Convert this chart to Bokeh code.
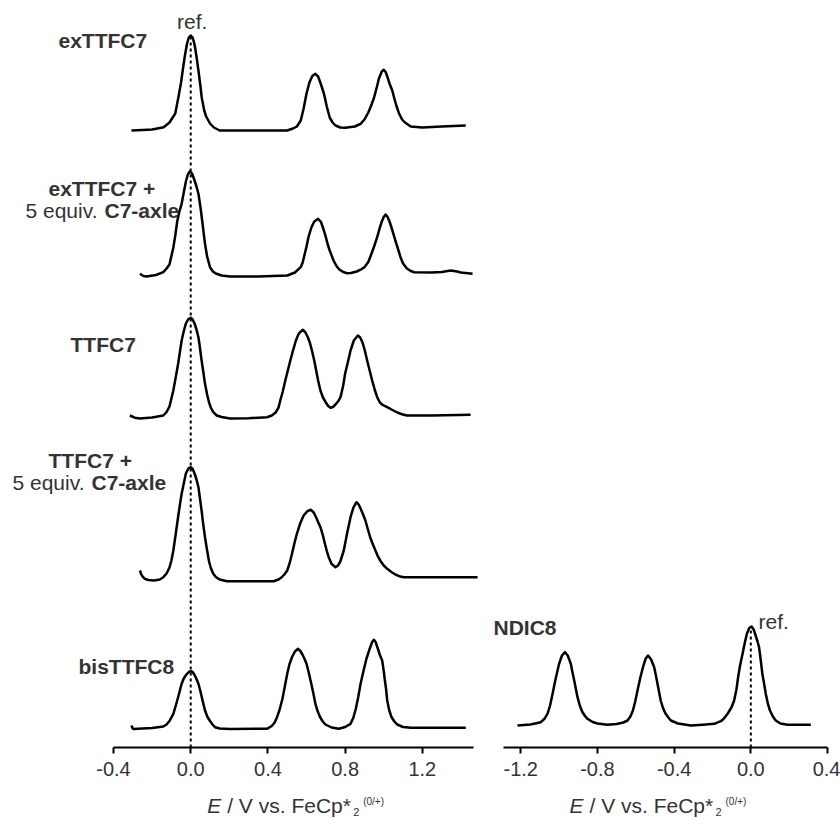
from bokeh.plotting import figure
from bokeh.layouts import row, column
from bokeh.models import Range1d, Label, FixedTicker, PrintfTickFormatter
from bokeh.embed import file_html
from bokeh.resources import INLINE

# ---------------- data (E in V vs FeCp*2, current in a.u. above each trace baseline) ----------------
extt_E = [-0.307, -0.25, -0.20, -0.14, -0.11, -0.08, -0.064, -0.05, -0.04, -0.03, -0.02, -0.01, 0.0, 0.01,
          0.02, 0.03, 0.04, 0.05, 0.057, 0.07, 0.08, 0.10, 0.12, 0.15, 0.30, 0.50, 0.53, 0.55, 0.57,
          0.585, 0.60, 0.615, 0.63, 0.646, 0.66, 0.675, 0.69, 0.705, 0.72, 0.735, 0.75, 0.775, 0.80,
          0.85, 0.88, 0.90, 0.92, 0.935, 0.95, 0.965, 0.975, 0.99, 1.0, 1.01, 1.02, 1.03, 1.044, 1.055,
          1.065, 1.08, 1.095, 1.11, 1.14, 1.20, 1.30, 1.425]
extt_I = [0, 0.5, 1, 3.3, 8, 17, 33, 48, 62, 75, 86, 93, 95, 93,
          86, 74, 60, 45, 33, 20, 14, 7, 3, 0, 0, 0, 2, 4, 10,
          22, 37, 48, 54.5, 56.7, 54, 46, 37, 24, 13, 8, 5, 3, 2.7,
          4, 6.7, 11, 18, 25, 33, 44, 52, 59, 60.7, 58.5, 53, 47, 40, 32,
          25, 16.7, 11, 8, 4, 3, 4, 5]

exttax_E = [-0.263, -0.245, -0.229, -0.18, -0.142, -0.125, -0.11, -0.09, -0.08, -0.07, -0.06, -0.047,
            -0.035, -0.025, -0.015, -0.004, 0.007, 0.02, 0.03, 0.04, 0.05, 0.06, 0.074, 0.085, 0.10,
            0.115, 0.13, 0.16, 0.204, 0.35, 0.50, 0.54, 0.57, 0.58, 0.59, 0.60, 0.61, 0.625, 0.64,
            0.66, 0.675, 0.69, 0.70, 0.71, 0.72, 0.74, 0.755, 0.77, 0.79, 0.81, 0.83, 0.86, 0.88,
            0.90, 0.92, 0.935, 0.95, 0.966, 0.98, 0.99, 1.0, 1.01, 1.02, 1.03, 1.04, 1.05, 1.06, 1.07,
            1.087, 1.10, 1.12, 1.14, 1.156, 1.25, 1.30, 1.347, 1.38, 1.40, 1.46]
exttax_I = [2.7, 0.5, 0, 1.5, 4.3, 8, 12, 29, 41, 55, 64, 72.7,
            85, 95, 102, 105.3, 103, 96, 90, 82.7, 70, 55, 32.7, 20, 9.3,
            5, 3, 1, 0, 0, 1, 4, 9.3, 14, 22, 30, 39.3, 49, 55,
            57.7, 54.5, 46, 39.3, 32, 26, 16, 10.5, 7, 4.5, 3.3, 3.5, 5, 6.8,
            9.3, 14.5, 22, 30, 39.3, 49, 55, 59.5, 62, 59.5, 55, 49, 42.7, 36, 30,
            19.3, 13, 8, 5.5, 4.3, 4, 4.5, 6, 5, 4, 2.7]

tt_E = [-0.315, -0.29, -0.263, -0.20, -0.142, -0.125, -0.11, -0.09, -0.075, -0.065, -0.047, -0.035,
        -0.025, -0.012, 0.0, 0.01, 0.02, 0.03, 0.04, 0.047, 0.055, 0.065, 0.074, 0.085, 0.095, 0.105,
        0.117, 0.135, 0.16, 0.204, 0.30, 0.395, 0.42, 0.44, 0.455, 0.464, 0.477, 0.49, 0.503, 0.516,
        0.53, 0.545, 0.56, 0.58, 0.593, 0.605, 0.617, 0.628, 0.64, 0.65, 0.66, 0.672, 0.685, 0.70,
        0.712, 0.724, 0.737, 0.75, 0.765, 0.776, 0.79, 0.80, 0.815, 0.828, 0.845, 0.866, 0.878, 0.89,
        0.902, 0.914, 0.927, 0.94, 0.953, 0.966, 0.98, 0.995, 1.018, 1.045, 1.07, 1.095, 1.12, 1.25,
        1.45]
tt_I = [3, 0.8, 0, 1, 3, 6.5, 12, 28, 44, 55, 78, 88,
        95, 99.5, 100.7, 99, 95, 89, 81.3, 72, 60, 47, 34.7, 24, 16, 10.5,
        6.3, 3, 1.5, 0, 0.3, 1.3, 3, 6, 11, 18, 27, 38, 48, 58,
        68, 78, 85, 88.7, 86.5, 82, 76, 68, 58, 48, 38, 28, 21, 16,
        12.5, 10.7, 11.5, 14, 17.5, 21.3, 33, 45, 57, 68, 78, 83, 81, 76,
        68, 58, 48, 38, 29, 21.3, 16, 13.5, 11.3, 8.5, 6, 4.3, 3, 3,
        3.7]

ttax_E = [-0.263, -0.257, -0.25, -0.237, -0.22, -0.19, -0.16, -0.142, -0.125, -0.11, -0.10, -0.09,
          -0.078, -0.065, -0.055, -0.047, -0.035, -0.025, -0.012, 0.0, 0.01, 0.02, 0.03, 0.04, 0.048,
          0.057, 0.065, 0.074, 0.085, 0.095, 0.105, 0.117, 0.13, 0.15, 0.187, 0.43, 0.455, 0.47, 0.485,
          0.50, 0.512, 0.525, 0.537, 0.55, 0.567, 0.585, 0.605, 0.623, 0.637, 0.65, 0.66, 0.672, 0.685,
          0.695, 0.705, 0.715, 0.73, 0.75, 0.763, 0.775, 0.793, 0.81, 0.82, 0.828, 0.843, 0.859, 0.87,
          0.88, 0.893, 0.905, 0.918, 0.93, 0.944, 0.957, 0.97, 0.985, 1.0, 1.018, 1.04, 1.06, 1.08,
          1.104, 1.30, 1.486]
ttax_I = [11, 7.5, 5, 2.7, 1.5, 1, 2, 4.3, 8, 14, 21, 31,
          47, 65, 78, 87.7, 99, 108, 113, 114.3, 112.5, 108, 102, 94.3, 83,
          70, 57, 44.3, 31, 20, 13, 7.7, 4.5, 2, 0.3, 0.3, 2, 4, 7,
          11, 18, 28, 38, 47.7, 58, 66, 70.5, 71.7, 69, 64, 59.5, 54.3, 46,
          38, 30.5, 24.3, 17.5, 14.3, 16, 20, 31, 48, 57, 64.3, 74, 79.3, 77,
          73, 67, 61, 52, 44, 37, 31, 25, 20, 16, 12.7, 9.5, 7, 5.3,
          4.3, 4.3, 4.3]

bis_E = [-0.307, -0.302, -0.298, -0.25, -0.20, -0.142, -0.125, -0.11, -0.09, -0.078, -0.065, -0.047,
         -0.035, -0.02, -0.01, 0.0, 0.01, 0.02, 0.03, 0.04, 0.05, 0.062, 0.074, 0.087, 0.10, 0.113,
         0.126, 0.15, 0.204, 0.395, 0.42, 0.435, 0.447, 0.46, 0.475, 0.487, 0.50, 0.512, 0.525, 0.54,
         0.556, 0.568, 0.58, 0.59, 0.60, 0.612, 0.625, 0.636, 0.646, 0.657, 0.67, 0.684, 0.698, 0.73,
         0.767, 0.80, 0.828, 0.842, 0.855, 0.868, 0.88, 0.895, 0.91, 0.925, 0.94, 0.949, 0.958, 0.97,
         0.98, 0.992, 1.0, 1.005, 1.012, 1.018, 1.028, 1.04, 1.055, 1.07, 1.10, 1.14, 1.425]
bis_I = [3.5, 1, 0, 0.5, 1, 2.5, 4.5, 8, 15.2, 23, 32, 45.2,
         51, 55, 57, 57.8, 57, 54, 50, 45.2, 38, 28, 18.5, 12, 8, 4.5,
         1.8, 0.5, 0, 0.2, 3, 6.5, 11.8, 19, 30, 42, 55.2, 65, 72, 77.5,
         80.2, 78, 74, 70, 65.2, 56, 45, 35, 25.2, 18, 12, 7.5, 4.5, 1.5,
         0.2, 2, 5.2, 11, 20, 32, 45.2, 58, 70, 79, 87, 89.2, 87, 80,
         74, 68.5, 58, 50, 40, 28.5, 19, 12, 7.5, 4.5, 2, 1.2, 1.2]

ndi_E = [-1.217, -1.15, -1.095, -1.075, -1.06, -1.047, -1.034, -1.02, -1.0, -0.985, -0.969, -0.955,
         -0.939, -0.93, -0.92, -0.912, -0.904, -0.892, -0.88, -0.865, -0.852, -0.825, -0.80, -0.748,
         -0.70, -0.665, -0.643, -0.628, -0.615, -0.603, -0.591, -0.575, -0.56, -0.548, -0.536, -0.52,
         -0.504, -0.495, -0.485, -0.477, -0.47, -0.458, -0.445, -0.43, -0.417, -0.38, -0.313, -0.25,
         -0.191, -0.156, -0.14, -0.12, -0.10, -0.087, -0.075, -0.065, -0.055, -0.043, -0.03, -0.02,
         -0.008, 0.004, 0.015, 0.025, 0.035, 0.043, 0.052, 0.06, 0.07, 0.078, 0.09, 0.10, 0.115, 0.13,
         0.155, 0.191, 0.313]
ndi_I = [0, 1, 3.3, 7, 12, 20, 31.7, 45, 61.7, 70, 73.3, 70,
         61.7, 53, 44, 36, 28.3, 20, 14, 9.5, 6.7, 3.5, 2, 0.7,
         1.5, 3, 5, 9, 15, 24, 35, 49, 60, 67, 70, 66,
         58.3, 50, 40, 32, 25, 17.5, 12, 8, 5, 2, 0, 0.8,
         1.7, 4.3, 7, 12, 18.5, 25, 36, 50, 61, 71.7, 84, 92,
         97.5, 99, 96, 90, 84, 78.3, 65, 52, 41, 31.7, 21, 15, 9, 5,
         2, 0.7, 0.7]

left_ticks = [-0.4, 0.0, 0.4, 0.8, 1.2]
right_ticks = [-1.2, -0.8, -0.4, 0.0, 0.4]
left_bounds = (-0.4, 1.465)
right_bounds = (-1.29, 0.40)

# stacking offsets (baseline of each trace)
left_traces = [(extt_E, extt_I, 617), (exttax_E, exttax_I, 471), (tt_E, tt_I, 329),
               (ttax_E, ttax_I, 166), (bis_E, bis_I, 18.5)]
right_trace = (ndi_E, ndi_I, 22)

# ---------------- layout helpers ----------------
FONT = "Liberation Sans"
TXT = "#333333"
FRAME_H = 747
TOP_H = 791
# left panel: px 113 -> -0.4, 360 px per 1.865 V ; right panel: px 503 -> -1.29, 324 px per 1.69 V


def lx(px):
    return -0.4 + (px - 113) / 360 * 1.865


def rx(px):
    return -1.29 + (px - 503) / 324 * 1.69


def yy(py):
    return FRAME_H - py


def make_fig(x0, x1, width, ticks, bounds):
    p = figure(width=width, height=TOP_H, x_range=Range1d(x0, x1), y_range=Range1d(0, FRAME_H),
               output_backend="svg", toolbar_location=None, y_axis_location=None,
               min_border_left=0, min_border_right=0, min_border_top=0,
               min_border_bottom=TOP_H - FRAME_H)
    p.outline_line_color = None
    p.grid.visible = False
    p.background_fill_color = "white"
    p.border_fill_color = "white"
    ax = p.xaxis[0]
    ax.bounds = bounds
    ax.ticker = FixedTicker(ticks=ticks)
    ax.formatter = PrintfTickFormatter(format="%.1f")
    ax.axis_line_width = 2
    ax.axis_line_color = "black"
    ax.major_tick_line_width = 2
    ax.major_tick_out = 6
    ax.major_tick_in = 0
    ax.minor_tick_line_color = None
    ax.major_label_text_font = FONT
    ax.major_label_text_font_size = "20px"
    ax.major_label_text_color = TXT
    ax.major_label_standoff = 8
    return p


def lab(p, x, y, text, size="21px", bold=False, italic=False):
    style = "normal"
    if bold:
        style = "bold"
    if italic:
        style = "italic"
    p.add_layout(Label(x=x, y=y, text=text, text_font=FONT, text_font_size=size,
                       text_font_style=style, text_color=TXT, text_align="left",
                       text_baseline="middle"))


# ---------------- left panel ----------------
p1 = make_fig(lx(0), lx(490), 490, left_ticks, left_bounds)
p1.line([0, 0], [0, yy(35)], line_color="black", line_width=2, line_dash="3 3")
for E, I, off in left_traces:
    p1.line(E, [v + off for v in I], line_color="black", line_width=2.5, line_join="round")

lab(p1, lx(176.5), yy(21), "ref.")
lab(p1, lx(58), yy(39.5), "exTTFC7", bold=True)
lab(p1, lx(48), yy(188), "exTTFC7 +", bold=True)
lab(p1, lx(25), yy(210), "5 equiv.")
lab(p1, lx(104), yy(210), "C7-axle", bold=True)
lab(p1, lx(70), yy(343.5), "TTFC7", bold=True)
lab(p1, lx(48), yy(459.5), "TTFC7 +", bold=True)
lab(p1, lx(12), yy(482), "5 equiv.")
lab(p1, lx(91), yy(482), "C7-axle", bold=True)
lab(p1, lx(78), yy(665.5), "bisTTFC8", bold=True)

# ---------------- right panel ----------------
p2 = make_fig(rx(490), rx(840), 350, right_ticks, right_bounds)
p2.line([0, 0], [0, yy(626)], line_color="black", line_width=2, line_dash="3 3")
E, I, off = right_trace
p2.line(E, [v + off for v in I], line_color="black", line_width=2.5, line_join="round")
lab(p2, rx(493), yy(626.5), "NDIC8", bold=True)
lab(p2, rx(758), yy(620.5), "ref.")

# ---------------- axis titles strip ----------------
BOT_H = 818 - TOP_H
p3 = figure(width=840, height=BOT_H, x_range=Range1d(0, 840), y_range=Range1d(0, BOT_H),
            output_backend="svg", toolbar_location=None, x_axis_location=None, y_axis_location=None,
            min_border_left=0, min_border_right=0, min_border_top=0, min_border_bottom=0)
p3.outline_line_color = None
p3.grid.visible = False


def by(py):
    return 818 - py


for x0 in (206.7, 569.0):
    lab(p3, x0, by(805), "E", italic=True)
    lab(p3, x0 + 20, by(805), "/ V vs. FeCp*")
    lab(p3, x0 + 146, by(811.5), "2", size="11px")
    lab(p3, x0 + 156, by(801), "(0/+)", size="10px")

layout = column(row(p1, p2), p3)
open("out.html", "w").write(file_html(layout, INLINE))
